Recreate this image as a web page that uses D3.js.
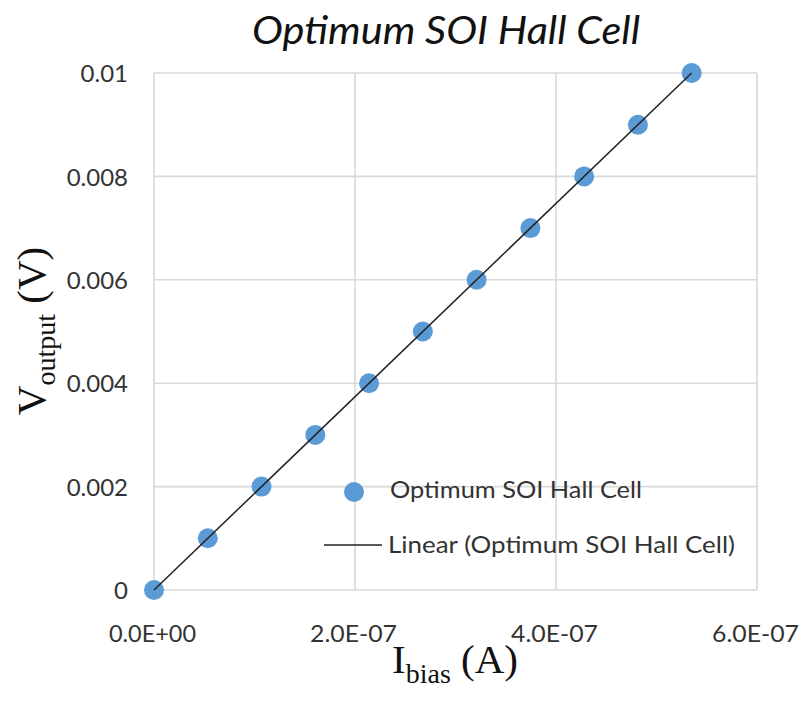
<!DOCTYPE html>
<html>
<head>
<meta charset="utf-8">
<script src="https://cdn.jsdelivr.net/npm/d3@7"></script>
<style>
  html, body { margin: 0; padding: 0; background: #fff; }
  svg { display: block; }
</style>
</head>
<body>
<svg id="chart" width="800" height="711"></svg>
<script>
// Bias current (A) and measured Hall output voltage (V)
const biasCurrent = [0, 0.535e-7, 1.07e-7, 1.605e-7, 2.14e-7, 2.675e-7, 3.21e-7, 3.745e-7, 4.28e-7, 4.815e-7, 5.35e-7];
const outputVoltage = [0, 0.001, 0.002, 0.003, 0.004, 0.005, 0.006, 0.007, 0.008, 0.009, 0.010];
const xTicks = [0, 2e-7, 4e-7, 6e-7];
const yTicks = [0, 0.002, 0.004, 0.006, 0.008, 0.01];
const seriesName = "Optimum SOI Hall Cell";
const trendName = "Linear (Optimum SOI Hall Cell)";

const svg = d3.select("#chart");
const margin = { left: 154, right: 43, top: 73, bottom: 121 };
const W = 800, H = 711;

const x = d3.scaleLinear().domain([0, 6e-7]).range([margin.left, W - margin.right]);
const y = d3.scaleLinear().domain([0, 0.01]).range([H - margin.bottom, margin.top]);

const tickFont = "Lato, 'Open Sans', sans-serif";
const serif = "'Liberation Serif', 'DejaVu Serif', serif";
const labelColor = "#333";

// Gridlines
const grid = svg.append("g");
grid.selectAll(".gy").data(yTicks).join("line")
  .attr("x1", x(0)).attr("x2", x(6e-7))
  .attr("y1", d => y(d)).attr("y2", d => y(d))
  .attr("stroke", "#d9d9d9").attr("stroke-width", 1.6);
grid.selectAll(".gx").data(xTicks).join("line")
  .attr("y1", y(0)).attr("y2", y(0.01))
  .attr("x1", d => x(d)).attr("x2", d => x(d))
  .attr("stroke", "#d9d9d9").attr("stroke-width", 1.6);

// Axes (labels only)
const fmtX = d => d3.format(".1e")(d).replace("e", "E").replace(/E([+-])(\d)$/, "E$10$2");
const xAxis = d3.axisBottom(x).tickValues(xTicks).tickFormat(fmtX).tickSize(0).tickPadding(0);
const gx = svg.append("g").attr("transform", `translate(0,${y(0)})`).call(xAxis);
gx.select(".domain").remove();
gx.selectAll("text").attr("y", 52).attr("dy", 0).attr("x", -2)
  .style("font-family", tickFont).style("font-size", "24px").attr("fill", labelColor)
  .attr("textLength", 87).attr("lengthAdjust", "spacingAndGlyphs");

const fmtY = d => d === 0 ? "0" : d3.format("")(+d.toFixed(3));
const yAxis = d3.axisLeft(y).tickValues(yTicks).tickFormat(fmtY).tickSize(0).tickPadding(0);
const gy = svg.append("g").attr("transform", `translate(${x(0) - 26},0)`).call(yAxis);
gy.select(".domain").remove();
gy.selectAll("text").attr("x", 0).attr("dy", "0.36em")
  .style("font-family", tickFont).style("font-size", "24px").attr("fill", labelColor);

// Least-squares linear trendline
const mx = d3.mean(biasCurrent), my = d3.mean(outputVoltage);
const slope = d3.sum(biasCurrent.map((v, i) => (v - mx) * (outputVoltage[i] - my))) /
              d3.sum(biasCurrent.map(v => (v - mx) * (v - mx)));
const intercept = my - slope * mx;
const xs = d3.extent(biasCurrent);

// Data points
svg.append("g").selectAll("circle").data(biasCurrent).join("circle")
  .attr("cx", d => x(d)).attr("cy", (d, i) => y(outputVoltage[i]))
  .attr("r", 10).attr("fill", "#5b9bd5");

// Trendline drawn over markers
svg.append("line")
  .attr("x1", x(xs[0])).attr("y1", y(intercept + slope * xs[0]))
  .attr("x2", x(xs[1])).attr("y2", y(intercept + slope * xs[1]))
  .attr("stroke", "#222").attr("stroke-width", 1.5);

// Title
svg.append("text").attr("x", 446).attr("y", 44).attr("text-anchor", "middle")
  .style("font-family", tickFont).style("font-style", "italic").style("font-size", "39px")
  .attr("fill", "#111").attr("textLength", 388).attr("lengthAdjust", "spacingAndGlyphs")
  .text(seriesName);

// X-axis title with subscript
const xt = svg.append("text").attr("x", 455).attr("y", 673).attr("text-anchor", "middle")
  .style("font-family", serif).style("font-size", "41px").attr("fill", "#111");
xt.append("tspan").text("I");
xt.append("tspan").attr("dy", 10).style("font-size", "28px").text("bias");
xt.append("tspan").attr("dy", -10).text(" (A)");

// Y-axis title with subscript
const yt = svg.append("text").attr("transform", "translate(45,331) rotate(-90)").attr("text-anchor", "middle")
  .style("font-family", serif).style("font-size", "41px").attr("fill", "#111");
yt.append("tspan").text("V");
yt.append("tspan").attr("dy", 10).style("font-size", "28px").text("output");
yt.append("tspan").attr("dy", -10).text(" (V)");

// Legend
const lg = svg.append("g");
lg.append("circle").attr("cx", 354).attr("cy", 492).attr("r", 10).attr("fill", "#5b9bd5");
lg.append("text").attr("x", 390).attr("y", 490).attr("dy", "0.36em")
  .style("font-family", tickFont).style("font-size", "23px").attr("fill", labelColor)
  .attr("textLength", 252).attr("lengthAdjust", "spacingAndGlyphs").text(seriesName);
lg.append("line").attr("x1", 324).attr("x2", 382).attr("y1", 545).attr("y2", 545)
  .attr("stroke", "#222").attr("stroke-width", 1.5);
lg.append("text").attr("x", 388).attr("y", 545).attr("dy", "0.36em")
  .style("font-family", tickFont).style("font-size", "23px").attr("fill", labelColor)
  .attr("textLength", 347).attr("lengthAdjust", "spacingAndGlyphs").text(trendName);
</script>
</body>
</html>
